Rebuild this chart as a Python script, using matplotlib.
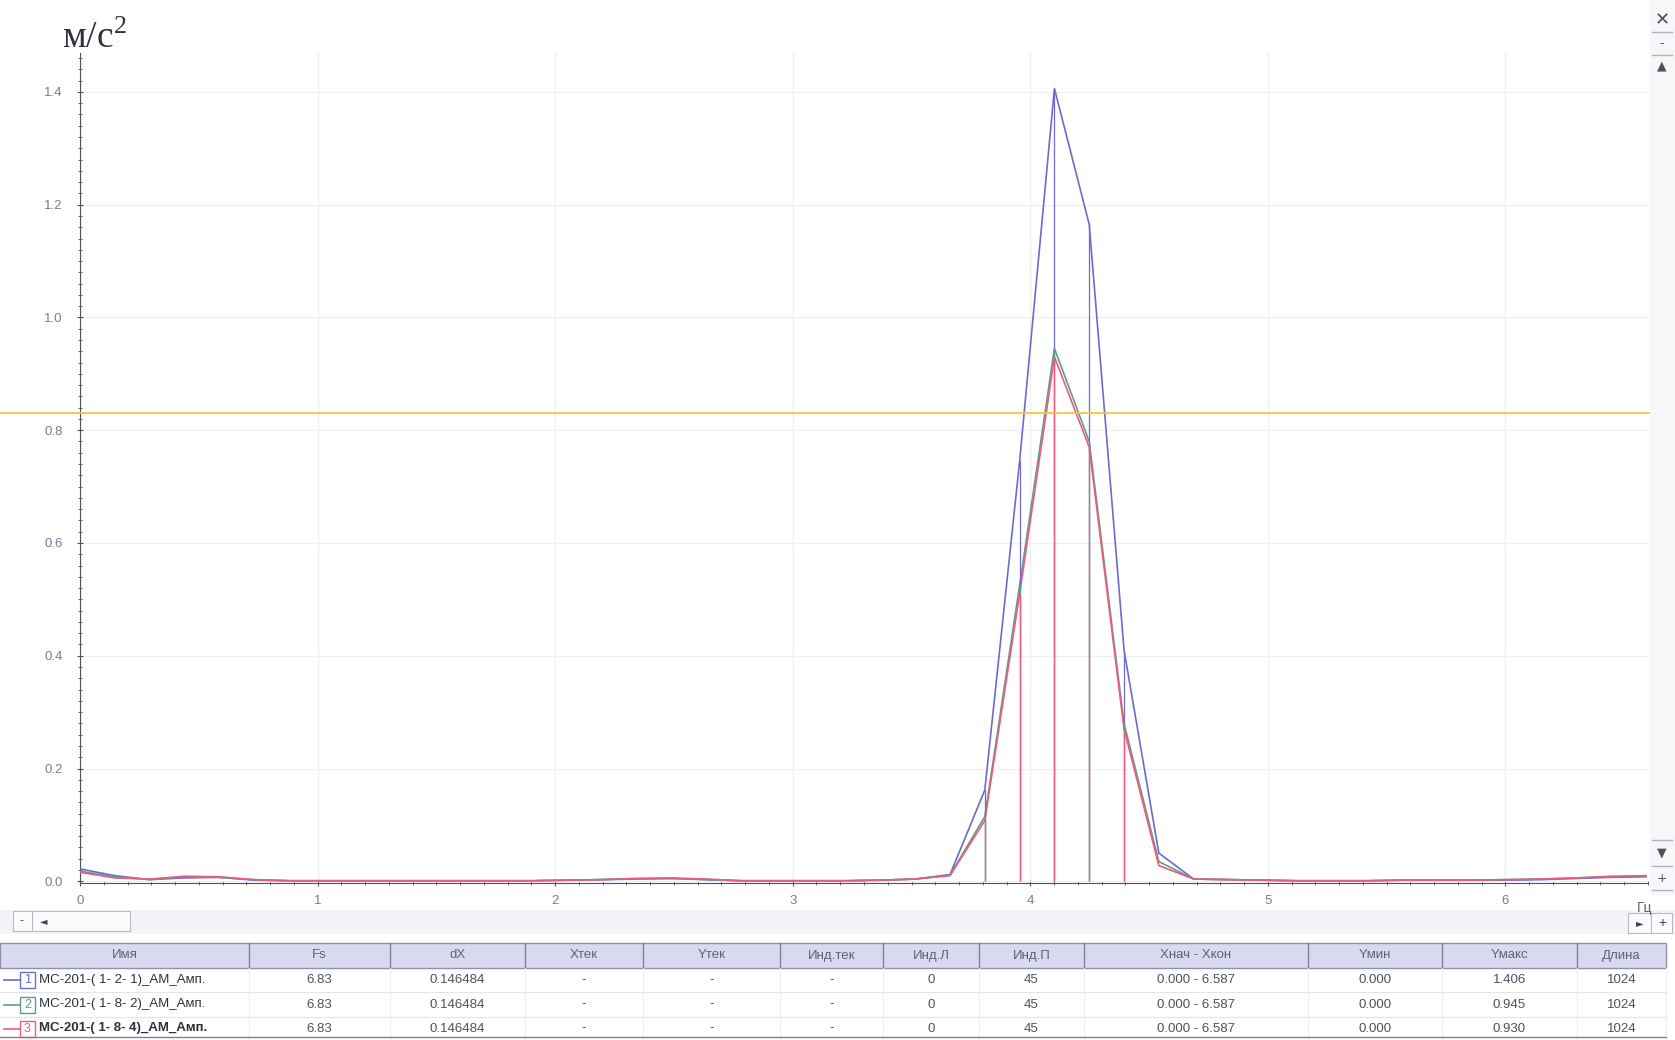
import numpy as np
import matplotlib
matplotlib.use('Agg')
import matplotlib.pyplot as plt
from matplotlib.patches import Rectangle
from matplotlib.ticker import MultipleLocator

plt.rcParams['font.family'] = ['Liberation Sans', 'DejaVu Sans']
plt.rcParams['mathtext.fontset'] = 'stix'

# spectrum data: step dX = 0.146484 Hz, indices 0..45
dx = 0.146484
n_pts = 46
amp1 = [0.022, 0.010, 0.003, 0.006, 0.007, 0.002, 0.001, 0.001, 0.001, 0.001,
        0.001, 0.001, 0.001, 0.001, 0.002, 0.003, 0.004, 0.005, 0.003, 0.001,
        0.001, 0.001, 0.001, 0.002, 0.004, 0.012, 0.162, 0.745, 1.406, 1.165,
        0.410, 0.050, 0.004, 0.003, 0.002, 0.001, 0.001, 0.001, 0.002, 0.002,
        0.002, 0.002, 0.003, 0.005, 0.007, 0.008]
amp2 = [0.018, 0.008, 0.003, 0.008, 0.007, 0.003, 0.001, 0.001, 0.001, 0.001,
        0.001, 0.001, 0.001, 0.001, 0.002, 0.003, 0.005, 0.005, 0.003, 0.001,
        0.001, 0.001, 0.001, 0.002, 0.004, 0.011, 0.115, 0.525, 0.945, 0.780,
        0.280, 0.035, 0.004, 0.003, 0.002, 0.001, 0.001, 0.001, 0.002, 0.002,
        0.002, 0.003, 0.004, 0.006, 0.008, 0.009]
amp3 = [0.016, 0.006, 0.004, 0.009, 0.008, 0.003, 0.001, 0.001, 0.001, 0.001,
        0.001, 0.001, 0.001, 0.001, 0.002, 0.003, 0.005, 0.006, 0.004, 0.001,
        0.001, 0.001, 0.001, 0.002, 0.004, 0.010, 0.108, 0.510, 0.930, 0.770,
        0.270, 0.028, 0.004, 0.003, 0.002, 0.001, 0.001, 0.001, 0.002, 0.002,
        0.002, 0.003, 0.004, 0.006, 0.009, 0.010]
cursor_level = 0.83
stem_threshold = 0.1

colors = ['#6b6bd0', '#5f9e8c', '#ec5c7c']
series = [amp1, amp2, amp3]

headers = ['Имя', 'Fs', 'dX', 'Xтек', 'Yтек', 'Инд.тек', 'Инд.Л', 'Инд.П',
           'Xнач - Xкон', 'Yмин', 'Yмакс', 'Длина']
names = ['МС-201-( 1- 2- 1)_АМ_Амп.', 'МС-201-( 1- 8- 2)_АМ_Амп.', 'МС-201-( 1- 8- 4)_АМ_Амп.']
fs_col = ['6.83', '6.83', '6.83']
dx_col = ['0.146484', '0.146484', '0.146484']
ind_l = ['0', '0', '0']
ind_p = ['45', '45', '45']
x_range = ['0.000 - 6.587', '0.000 - 6.587', '0.000 - 6.587']
y_min = ['0.000', '0.000', '0.000']
y_max = ['1.406', '0.945', '0.930']
length = ['1024', '1024', '1024']

W, H = 1675, 1040
fig = plt.figure(figsize=(W / 100, H / 100), dpi=100)
ax = fig.add_axes([80 / W, 1 - 883 / H, 1568 / W, 830 / H])

freq = np.arange(n_pts) * dx
for vals, c in zip(series, colors):
    v = np.array(vals)
    ax.plot(freq, v, color=c, lw=1.2, zorder=3)
for vals, c in zip(series, colors):
    v = np.array(vals)
    m = v > stem_threshold
    ax.vlines(freq[m], 0, v[m], color=c, lw=0.9, zorder=4)

ax.axhline(cursor_level, xmin=-80 / 1568, xmax=1595 / 1568, color='#f3c63a',
           lw=1.3, clip_on=False, zorder=5)

ax.set_xlim(0, 6.6)
ax.set_ylim(-0.003, 1.469)
ax.set_xticks(range(0, 7))
ax.set_yticks(np.arange(0, 1.41, 0.2))
ax.set_yticklabels(['%.1f' % t for t in np.arange(0, 1.41, 0.2)])
ax.xaxis.set_minor_locator(MultipleLocator(0.1))
ax.yaxis.set_minor_locator(MultipleLocator(0.02))
ax.grid(True, color='#efeff4', lw=0.9)
ax.set_axisbelow(True)
for s in ['top', 'right']:
    ax.spines[s].set_visible(False)
for s in ['left', 'bottom']:
    ax.spines[s].set_color('#505060')
ax.tick_params(axis='both', which='major', colors='#505060', labelcolor='#7a7a96',
               labelsize=9.5, length=5, direction='inout')
ax.tick_params(axis='both', which='minor', colors='#505060', length=3, direction='inout')
ax.tick_params(axis='x', pad=6)
ax.tick_params(axis='y', pad=10)

# overlay in pixel coordinates for the window decorations and the table
top = fig.add_axes([0, 0, 1, 1], zorder=10)
top.set_xlim(0, W)
top.set_ylim(H, 0)
top.axis('off')
top.patch.set_alpha(0)

top.text(62, 48, 'м/с$^{\\mathregular{2}}$', fontsize=27, family='Liberation Serif',
         color='#303040', va='baseline')
top.text(1637, 908, 'Гц', fontsize=10, color='#606070', va='center')

# right scroll bar
top.add_patch(Rectangle((1650, 0), 25, 895, fc='#f7f7f9', ec='none'))
for y, s in [(20, '✕'), (44, '-'), (66, '▲'), (853, '▼'), (878, '+')]:
    top.text(1662, y, s, ha='center', va='center', fontsize=9 if s != '✕' else 13,
             color='#505060', family=['DejaVu Sans'])
for y in [32, 55, 840, 866, 890]:
    top.plot([1652, 1672], [y, y], color='#b0b0c0', lw=1)

# horizontal scroll strip
top.add_patch(Rectangle((0, 910), W, 24, fc='#f4f4f8', ec='none'))
top.add_patch(Rectangle((13, 911), 117, 20, fc='#fbfbfd', ec='#b8b8c8', lw=0.8))
top.plot([32, 32], [912, 930], color='#b8b8c8', lw=0.8)
top.text(22, 921, '-', ha='center', va='center', fontsize=9, color='#404050')
top.text(44, 921, '◄', ha='center', va='center', fontsize=7, color='#404050',
         family=['DejaVu Sans'])
top.add_patch(Rectangle((1628, 913), 44, 20, fc='#fbfbfd', ec='#b8b8c8', lw=0.8))
top.plot([1651, 1651], [914, 932], color='#b8b8c8', lw=0.8)
top.text(1640, 923, '►', ha='center', va='center', fontsize=7, color='#404050',
         family=['DejaVu Sans'])
top.text(1662, 923, '+', ha='center', va='center', fontsize=10, color='#404050')

# table
edges = [0, 249, 390, 525, 643, 780, 883, 979, 1084, 1308, 1442, 1577, 1666]
hy0, hy1 = 943, 968
row_y = [968, 992, 1017, 1040]
top.add_patch(Rectangle((0, hy0), 1666, hy1 - hy0, fc='#d9d9ef', ec='#9090a8', lw=1))
for e in edges[1:-1]:
    top.plot([e, e], [hy0, hy1], color='#8080a0', lw=1)
for i, h in enumerate(headers):
    top.text((edges[i] + edges[i + 1]) / 2, (hy0 + hy1) / 2, h, ha='center',
             va='center', fontsize=9.5, color='#606078')
for y in row_y[1:]:
    top.plot([0, 1666], [y, y], color='#e4e4ea', lw=0.8)
for e in edges[1:]:
    top.plot([e, e], [hy1, row_y[-1]], color='#eeeef2', lw=0.8)
top.plot([0, 1666], [1037, 1037], color='#808090', lw=1)

cols = [fs_col, dx_col, None, None, None, ind_l, ind_p, x_range, y_min, y_max, length]
for r in range(3):
    yc = (row_y[r] + row_y[r + 1]) / 2
    top.plot([4, 20], [yc, yc], color=colors[r], lw=1.2)
    top.add_patch(Rectangle((20, yc - 8), 15, 16, fc='white', ec=colors[r], lw=1))
    top.text(27.5, yc, str(r + 1), ha='center', va='center', fontsize=9,
             color=colors[r])
    top.text(39, yc, names[r], ha='left', va='center', fontsize=9.5,
             color='#303040', fontweight='bold' if r == 2 else 'normal')
    for j, col in enumerate(cols):
        txt = '-' if col is None else col[r]
        top.text((edges[j + 1] + edges[j + 2]) / 2, yc, txt, ha='center',
                 va='center', fontsize=9.5, color='#505060')

fig.savefig('out.png', dpi=100)
